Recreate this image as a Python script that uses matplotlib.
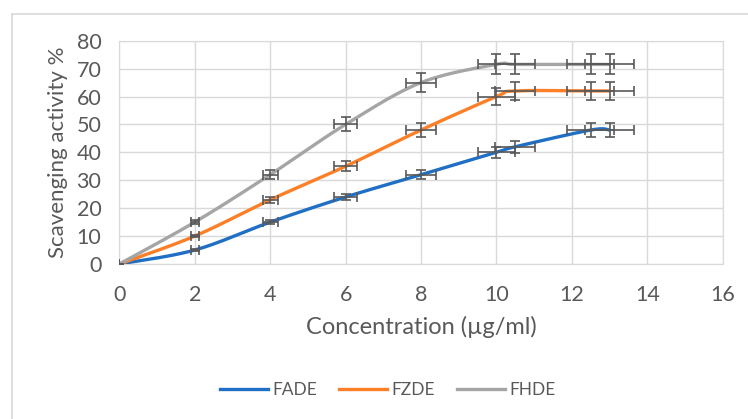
import numpy as np
import matplotlib
matplotlib.use("Agg")
import matplotlib.pyplot as plt
from matplotlib.lines import Line2D

plt.rcParams['font.family'] = ['Lato', 'DejaVu Sans']

conc = [0, 2, 4, 6, 8, 10, 10.5, 12.5, 13]
fade = [0, 5, 15, 24, 32, 40, 42, 48, 48]
fzde = [0, 10, 23, 35, 48, 60, 62, 62, 62]
fhde = [0, 15, 32, 50, 65, 71.5, 71.5, 71.5, 71.5]
series = [("FADE", fade, "#1f6fc5"), ("FZDE", fzde, "#fd7f27"), ("FHDE", fhde, "#a5a5a5")]
err_pct = 0.05

TXT = "#595959"
GRID = "#d9d9d9"


def smooth(x, y, n=30):
    # Excel-like smoothing: cubic Bezier with Catmull-Rom control points
    x = np.asarray(x, float)
    y = np.asarray(y, float)
    px, py = [], []
    for i in range(len(x) - 1):
        x0, y0 = (x[i - 1], y[i - 1]) if i > 0 else (x[i], y[i])
        x3, y3 = (x[i + 2], y[i + 2]) if i + 2 < len(x) else (x[i + 1], y[i + 1])
        c1x = x[i] + (x[i + 1] - x0) / 6
        c1y = y[i] + (y[i + 1] - y0) / 6
        c2x = x[i + 1] - (x3 - x[i]) / 6
        c2y = y[i + 1] - (y3 - y[i]) / 6
        t = np.linspace(0, 1, n)
        bx = (1 - t) ** 3 * x[i] + 3 * (1 - t) ** 2 * t * c1x + 3 * (1 - t) * t ** 2 * c2x + t ** 3 * x[i + 1]
        by = (1 - t) ** 3 * y[i] + 3 * (1 - t) ** 2 * t * c1y + 3 * (1 - t) * t ** 2 * c2y + t ** 3 * y[i + 1]
        px.extend(bx)
        py.extend(by)
    return px, py


fig = plt.figure(figsize=(7.48, 4.19), dpi=100)
ax = fig.add_axes([0.1595, 0.3699, 0.8067, 0.533])

# chart outer border
fig.add_artist(Line2D([11.5 / 748, 11.5 / 748], [0, 1 - 14 / 419], color=GRID, lw=1.2))
fig.add_artist(Line2D([11.5 / 748, 1], [1 - 14 / 419, 1 - 14 / 419], color=GRID, lw=1.2))

for name, vals, col in series:
    sx, sy = smooth(conc, vals)
    ax.plot(sx, sy, color=col, lw=2.4, solid_capstyle='round', zorder=3)
for name, vals, col in series:
    x = np.array(conc, float)
    y = np.array(vals, float)
    ax.errorbar(x, y, xerr=err_pct * x, yerr=err_pct * y, fmt='none',
                ecolor=TXT, elinewidth=1.2, capsize=3.6, capthick=1.2, zorder=4)

ax.set_xlim(0, 16)
ax.set_ylim(0, 80)
ax.set_xticks(range(0, 17, 2))
ax.set_yticks(range(0, 81, 10))
ax.grid(True, color=GRID, lw=1)
ax.set_axisbelow(True)
for s in ax.spines.values():
    s.set_color(GRID)
ax.tick_params(length=0, colors=TXT, labelsize=15.5)
ax.tick_params(axis='x', pad=15)
ax.tick_params(axis='y', pad=13)
ax.set_xlabel("Concentration (µg/ml)", color=TXT, fontsize=17, labelpad=8)
ax.set_ylabel("Scavenging activity %", color=TXT, fontsize=16, labelpad=6)

handles = [Line2D([], [], color=c, lw=2.4) for _, _, c in series]
fig.legend(handles, [n for n, _, _ in series], loc='center', bbox_to_anchor=(388 / 748, 1 - 390 / 419),
           ncol=3, frameon=False, fontsize=12.5, labelcolor=TXT, handlelength=2.76,
           handletextpad=0.25, columnspacing=1.26)

fig.savefig("out.png", dpi=100)
